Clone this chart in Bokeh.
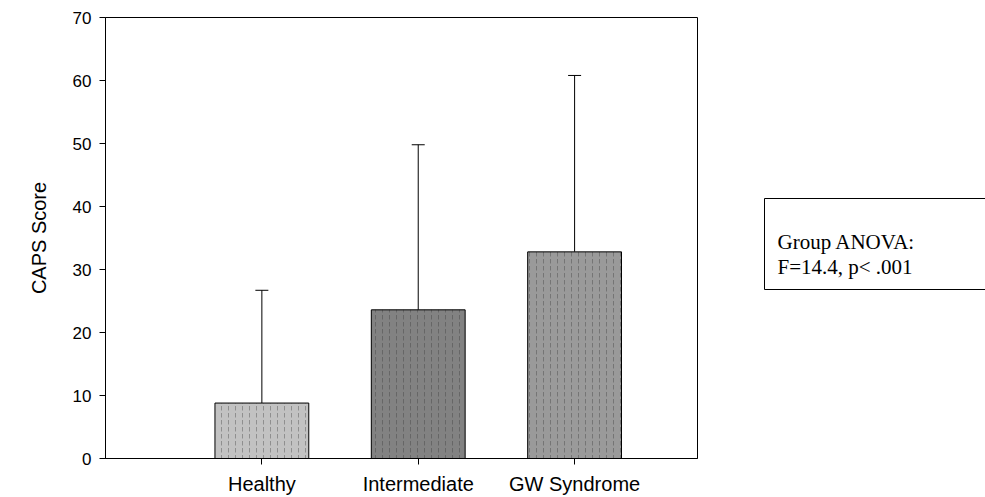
from bokeh.plotting import figure
from bokeh.layouts import row
from bokeh.models import (ColumnDataSource, Range1d, FixedTicker, Whisker, TeeHead)
from bokeh.core.properties import value
from bokeh.embed import file_html
from bokeh.resources import INLINE

# ---- data ----
groups = ["Healthy", "Intermediate", "GW Syndrome"]
positions = [1, 2, 3]
means = [8.8, 23.6, 32.8]
upper = [26.7, 49.8, 60.8]
colors = ["#c2c2c2", "#828282", "#9a9a9a"]
y_ticks = [0, 10, 20, 30, 40, 50, 60, 70]
stats_lines = ["Group ANOVA:", "F=14.4, p< .001"]

H = 497
FRAME_TOP, FRAME_BOTTOM = 17, 458
src = ColumnDataSource(dict(x=positions, top=means, upper=upper, color=colors))

p = figure(width=700, height=H, output_backend="svg", toolbar_location=None,
           x_range=Range1d(0, 3.786), y_range=Range1d(0, 70),
           min_border_left=105, min_border_right=3, min_border_top=FRAME_TOP,
           min_border_bottom=H - FRAME_BOTTOM)

p.background_fill_color = "white"
p.border_fill_color = "white"
p.outline_line_color = "black"
p.outline_line_width = 1
p.xgrid.visible = False
p.ygrid.visible = False

p.vbar(x="x", top="top", bottom=0, width=0.6, source=src, fill_color="color",
       line_color="black", line_width=1,
       hatch_pattern="vertical_dash", hatch_color="#303030", hatch_alpha=0.35, hatch_scale=7)

wh = Whisker(source=src, base="x", lower="top", upper="upper", dimension="height",
             line_color="black", line_width=1,
             upper_head=TeeHead(size=13, line_color="black", line_width=1),
             lower_head=None)
p.add_layout(wh)

# axes
p.xaxis.ticker = FixedTicker(ticks=positions)
p.xaxis.major_label_overrides = {pos: g for pos, g in zip(positions, groups)}
p.xaxis.major_tick_in = 0
p.xaxis.major_tick_out = 6
p.xaxis.minor_tick_line_color = None
p.xaxis.major_label_text_font = "Liberation Sans"
p.xaxis.major_label_text_font_size = "20px"
p.xaxis.major_label_text_color = "black"
p.xaxis.major_label_standoff = 8
p.xaxis.axis_line_color = "black"

p.yaxis.ticker = FixedTicker(ticks=y_ticks)
p.yaxis.major_tick_in = 0
p.yaxis.major_tick_out = 6
p.yaxis.minor_tick_line_color = None
p.yaxis.major_label_text_font = "Liberation Sans"
p.yaxis.major_label_text_font_size = "17px"
p.yaxis.major_label_text_color = "black"
p.yaxis.major_label_standoff = 8
p.yaxis.axis_label = "CAPS Score"
p.yaxis.axis_label_text_font = "Liberation Sans"
p.yaxis.axis_label_text_font_size = "20px"
p.yaxis.axis_label_text_font_style = "normal"
p.yaxis.axis_label_text_color = "black"
p.yaxis.axis_label_standoff = 20
p.yaxis.axis_line_color = "black"

# ---- side panel with the statistics box (frame aligned with main plot) ----
W2 = 285
q = figure(width=W2, height=H, output_backend="svg", toolbar_location=None,
           x_range=Range1d(0, W2), y_range=Range1d(FRAME_BOTTOM, FRAME_TOP),
           x_axis_location=None, y_axis_location=None, title=None,
           min_border=0)
q.grid.visible = False
q.outline_line_color = None
q.background_fill_color = "white"
q.border_fill_color = "white"

q.quad(left=64, right=W2 + 20, top=198, bottom=289, fill_color="white",
       line_color="black", line_width=1)
q.text(x=[77] * len(stats_lines), y=[241 + 25 * i for i in range(len(stats_lines))],
       text=stats_lines, text_font=value("Liberation Serif"), text_font_size="21px",
       text_color="black", text_align="left", text_baseline="middle")

layout = row(p, q)
open("out.html", "w").write(file_html(layout, INLINE))
